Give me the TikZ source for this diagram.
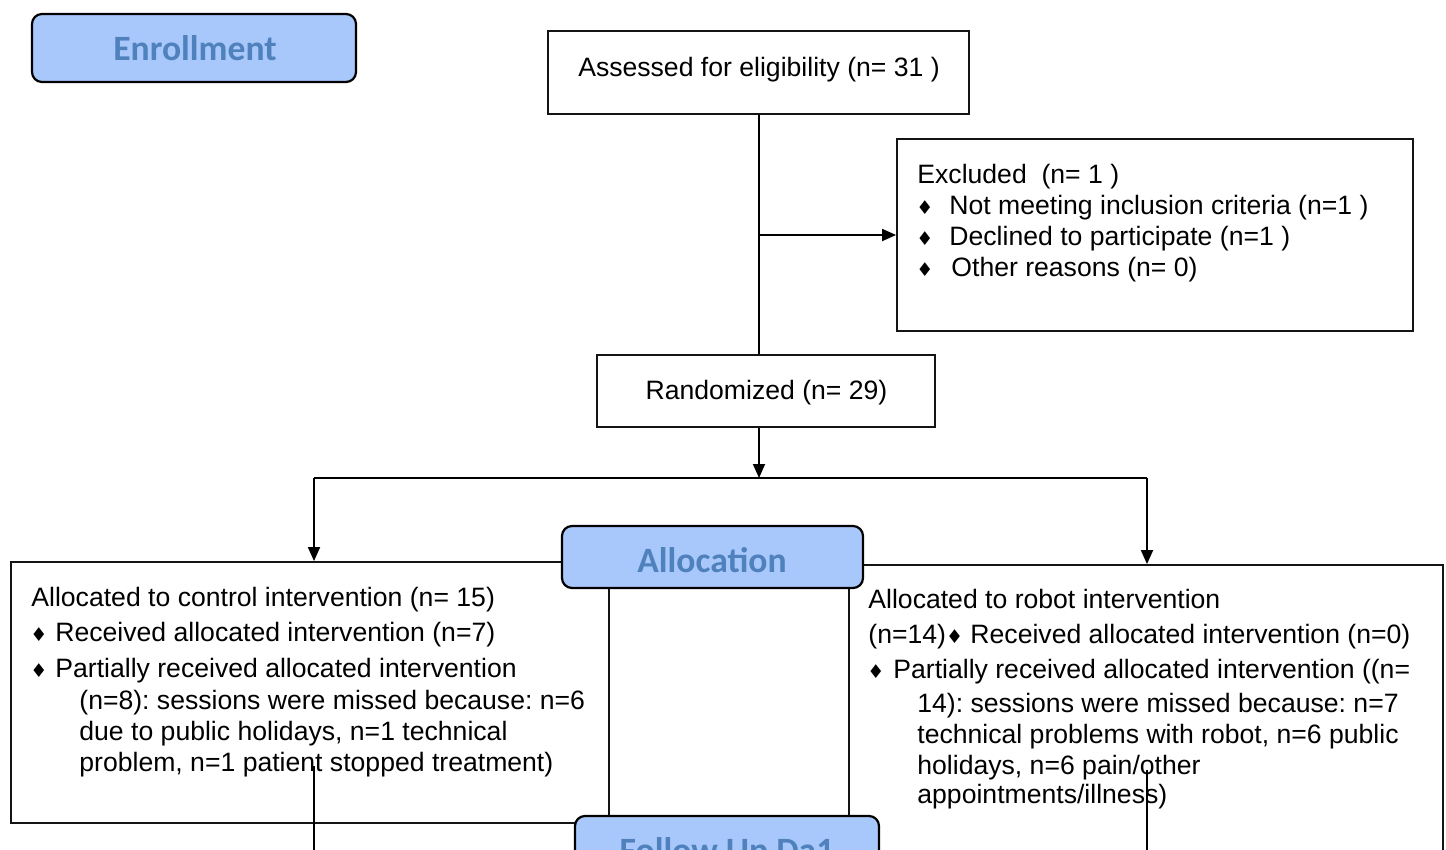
\documentclass[tikz,border=0pt]{standalone}
\usepackage{fontspec}
\setmainfont{Liberation Sans}
\newfontfamily\carlito{Carlito}
\newfontfamily\dejavu{DejaVu Sans}
\usetikzlibrary{arrows.meta}
\definecolor{boxfill}{RGB}{168,199,250}
\definecolor{boxtext}{RGB}{79,129,189}
\definecolor{edge}{RGB}{20,20,20}
\newcommand\bul{{\dejavu\fontsize{9.5}{9.5}\selectfont ♦}}
\frenchspacing
\begin{document}
\begin{tikzpicture}[x=0.5pt,y=-0.5pt,
  plainbox/.style={draw=edge,line width=0.9pt,fill=white,inner sep=0pt},
  phasebox/.style={draw=black,line width=1.1pt,fill=boxfill,rounded corners=5pt,inner sep=0pt},
  txt/.style={inner sep=0pt,anchor=base west,font=\fontsize{13.3}{15.5}\selectfont},
  ctxt/.style={inner sep=0pt,anchor=base,font=\fontsize{13.3}{15.5}\selectfont},
  bulnode/.style={inner sep=0pt,anchor=base},
  phasetxt/.style={inner sep=0pt,anchor=base,text=boxtext,font=\carlito\bfseries\fontsize{17.8}{20}\selectfont},
  conn/.style={line width=0.9pt,draw=black},
  arr/.style={conn,-{Triangle[length=7pt,width=6pt]}}]
\useasboundingbox (0,0) rectangle (1446,850);
\fill[white] (0,0) rectangle (1446,850);

% boxes of the upper part
\node[phasebox,minimum width=162pt,minimum height=34pt] (enroll) at (194,48) {};
\node[plainbox,minimum width=210.5pt,minimum height=41.5pt] (assess) at (758.5,72.5) {};
\node[plainbox,minimum width=258pt,minimum height=96pt] (excl) at (1155,235) {};
\node[plainbox,minimum width=169pt,minimum height=36pt] (random) at (766,391) {};

% connectors
\coordinate (br1) at (759,235);
\coordinate (split) at (759,478);
\coordinate (lt) at (314,478);
\coordinate (rt) at (1147,478);
\coordinate (thA) at (657,478);
\coordinate (thB) at (803,478);
\draw[conn] (assess.south -| br1) -- (random.north -| br1);
\draw[arr] (br1) -- (br1 -| excl.west);
\draw[arr] (random.south -| split) -- (split);
\draw[conn] (lt) -- (rt);
\draw[line width=1.2pt] (thA) -- (thB);

% lower boxes
\node[plainbox,minimum width=299pt,minimum height=130.5pt] (ctrl) at (310,692.5) {};
\node[plainbox,minimum width=297pt,minimum height=157.5pt] (robot) at (1146,722.5) {};
\draw[arr] (lt) -- (lt |- ctrl.north);
\draw[arr] (rt) -- (rt |- robot.north);
\node[phasebox,minimum width=150.5pt,minimum height=31pt] (alloc) at (712.5,557) {};
\node[phasebox,minimum width=152pt,minimum height=32pt] (follow) at (727,848) {};

% phase labels
\node[phasetxt] (enrollt) at (195,60.5) {Enrollment};
\node[phasetxt] (alloct) at (712,572.5) {Allocation};
\node[phasetxt] (followt) at (727,862.5) {Follow Up Da1};

% texts
\node[ctxt] (assesst) at (759,77) {Assessed for eligibility (n= 31 )};
\node[ctxt] (randomt) at (766.5,399) {Randomized (n= 29)};

\node[txt] (ex0) at (917,184) {Excluded\ \ (n= 1 )};
\node[bulnode] (exb1) at (925,215) {\bul};
\node[txt] (ex1) at (949,215) {Not meeting inclusion criteria (n=1 )};
\node[bulnode] (exb2) at (925,246) {\bul};
\node[txt] (ex2) at (949,246) {Declined to participate (n=1 )};
\node[bulnode] (exb3) at (925,277) {\bul};
\node[txt] (ex3) at (951,277) {Other reasons (n= 0)};

\node[txt] (c0) at (31,606) {Allocated to control intervention (n= 15)};
\node[bulnode] (cb1) at (39,641) {\bul};
\node[txt] (c1) at (55,641) {Received allocated intervention (n=7)};
\node[bulnode] (cb2) at (39,677) {\bul};
\node[txt] (c2) at (55,677) {Partially received allocated intervention};
\node[txt] (c3) at (79,709) {(n=8): sessions were missed because: n=6};
\node[txt] (c4) at (79,740) {due to public holidays, n=1 technical};
\node[txt] (c5) at (79,771) {problem, n=1 patient stopped treatment)};

\node[txt] (r0) at (868,608) {Allocated to robot intervention};
\node[txt] (r1) at (868,643) {(n=14)\bul{} Received allocated intervention (n=0)};
\node[bulnode] (rb2) at (876,678) {\bul};
\node[txt] (r2) at (893,678) {Partially received allocated intervention ((n=};
\node[txt] (r3) at (917,712) {14): sessions were missed because: n=7};
\node[txt] (r4) at (917,743) {technical problems with robot, n=6 public};
\node[txt] (r5) at (917,774) {holidays, n=6 pain/other};
\node[txt] (r6) at (917,803) {appointments/illness)};

% connectors leaving towards the lower part
\coordinate (cl) at (314,766);
\coordinate (clb) at (314,870);
\coordinate (rl) at (1147,770);
\coordinate (rlb) at (1147,870);
\draw[conn] (cl) -- (clb);
\draw[conn] (rl) -- (rlb);
\end{tikzpicture}
\end{document}
